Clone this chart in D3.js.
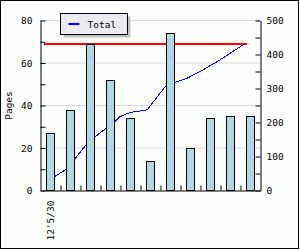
<!DOCTYPE html>
<html>
<head>
<meta charset="utf-8">
<script src="https://cdn.jsdelivr.net/npm/d3@7"></script>
<style>
  body { margin: 0; background: #fff; }
  svg { display: block; }
  text { font-family: "DejaVu Sans Mono", monospace; font-size: 9.5px; fill: #000; }
</style>
</head>
<body>
<svg id="chart" width="300" height="250"></svg>
<script>
// weekly pages (bars, left axis)
let weeks = d3.range(11);
let weekLabels = ["12'5/30", "", "", "", "", "", "", "", "", "", ""];
let pages = [27, 38, 69, 52, 34, 14, 74, 20, 34, 35, 35];

// running total (line, right axis), day offsets from first week
let totalDays = [5.1, 8.6, 12.1, 15.9, 19.1, 22.9, 26.4, 27.8, 30.3, 32.4, 37.3, 43.6, 47.1, 51.3, 56.9, 62.8, 71.4];
let totalValues = [42, 60, 94, 134, 158, 183, 205, 217, 226, 231, 237, 305, 318, 330, 355, 384, 431];

// target line
let targetDays = [1.2, 72.3];
let targetValue = 432;

let leftTicks = d3.range(0, 81, 10);
let rightTicks = d3.range(0, 501, 50);

let svg = d3.select('#chart');

let margin = {left: 40.5, right: 260.5, top: 20.5, bottom: 190.5};

let xBand = d3.scaleBand().domain(weeks).range([margin.left, margin.right])
  .paddingInner(0.6).paddingOuter(0.3);
let xDay = d3.scaleLinear().domain([0, 77]).range([margin.left, margin.right]);
let yLeft = d3.scaleLinear().domain([0, 80]).range([margin.bottom, margin.top]);
let yRight = d3.scaleLinear().domain([0, 500]).range([margin.bottom, margin.top]);

// background + frame
svg.append('rect')
  .attr('x', 0.5).attr('y', 0.5).attr('width', 298).attr('height', 248)
  .style('fill', '#fcfffc').style('stroke', 'black');

// grid
svg.append('g').selectAll('line')
  .data([20, 40, 60, 80])
  .join('line')
  .attr('x1', margin.left).attr('x2', margin.right)
  .attr('y1', d => yLeft(d)).attr('y2', d => yLeft(d))
  .style('stroke', '#d8d8d8');

// target line
svg.append('line')
  .attr('x1', xDay(targetDays[0])).attr('x2', xDay(targetDays[1]))
  .attr('y1', Math.round(yRight(targetValue)) + 0.5 - 0.5)
  .attr('y2', Math.round(yRight(targetValue)) + 0.5 - 0.5)
  .style('stroke', 'red').style('stroke-width', 2);

// running total
let line = d3.line().x((d, i) => xDay(totalDays[i])).y(d => yRight(d));
svg.append('path')
  .datum(totalValues)
  .attr('d', line)
  .style('fill', 'none').style('stroke', 'blue').style('stroke-width', 1)
  .style('shape-rendering', 'crispEdges');

// bars
let bars = svg.append('g');
bars.selectAll('rect')
  .data(pages)
  .join('rect')
  .attr('x', (d, i) => xBand(weeks[i]))
  .attr('y', d => Math.round(yLeft(d)) + 0.5)
  .attr('width', xBand.bandwidth())
  .attr('height', d => margin.bottom - Math.round(yLeft(d)) - 0.5)
  .style('fill', '#add8e6').style('stroke', 'black');
bars.selectAll('line')
  .data(pages)
  .join('line')
  .attr('x1', (d, i) => xBand(weeks[i]) + xBand.bandwidth() / 2)
  .attr('x2', (d, i) => xBand(weeks[i]) + xBand.bandwidth() / 2)
  .attr('y1', d => yLeft(d) + 2).attr('y2', margin.bottom)
  .style('stroke', '#c9c9d6').style('stroke-dasharray', '1,2');

// left axis
let leftAxis = svg.append('g')
  .attr('transform', `translate(${margin.left},0)`)
  .call(d3.axisLeft(yLeft).tickValues(leftTicks).tickSize(-5).tickSizeOuter(0)
    .tickPadding(8).tickFormat(d => d % 20 === 0 ? d : ''));

// right axis
let rightAxis = svg.append('g')
  .attr('transform', `translate(${margin.right},0)`)
  .call(d3.axisRight(yRight).tickValues(rightTicks).tickSize(-5).tickSizeOuter(0)
    .tickPadding(6).tickFormat(d => d % 100 === 0 ? d : ''));

// bottom axis
let bottomAxis = svg.append('g')
  .attr('transform', `translate(0,${margin.bottom})`)
  .call(d3.axisBottom(xDay).tickValues(d3.range(7, 77, 7)).tickSize(-5).tickSizeOuter(0)
    .tickFormat(''));

[leftAxis, rightAxis, bottomAxis].forEach(g => {
  g.attr('font-family', null).attr('font-size', null);
  g.selectAll('path, line').style('stroke', 'black');
});

// category labels
svg.append('g').selectAll('text')
  .data(weekLabels)
  .join('text')
  .attr('transform', (d, i) => `translate(${xBand(weeks[i]) + xBand.bandwidth() / 2 + 3.5},${margin.bottom + 10}) rotate(-90)`)
  .attr('text-anchor', 'end')
  .text(d => d);

// y title
svg.append('text')
  .attr('transform', `translate(12,${(margin.top + margin.bottom) / 2}) rotate(-90)`)
  .attr('text-anchor', 'middle')
  .text('Pages');

// legend
let legend = svg.append('g').attr('transform', 'translate(60.5,13.5)');
legend.append('rect')
  .attr('x', 3).attr('y', 3).attr('width', 67).attr('height', 21)
  .style('fill', '#c0c0c0');
legend.append('rect')
  .attr('width', 67).attr('height', 21)
  .style('fill', '#ecebf1').style('stroke', 'black');
legend.append('line')
  .attr('x1', 8).attr('x2', 19).attr('y1', 10.5).attr('y2', 10.5)
  .style('stroke', 'blue').style('stroke-width', 2);
legend.append('text')
  .attr('x', 27).attr('y', 14)
  .text('Total');
</script>
</body>
</html>
